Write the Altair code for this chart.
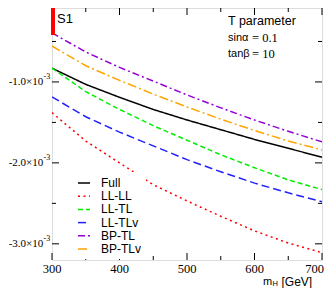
import altair as alt
import pandas as pd

# ---- data (units of 1e-3) ----
mh = [300, 350, 400, 450, 500, 550, 600, 650, 700]
full = [-0.83, -1.03, -1.19, -1.34, -1.47, -1.59, -1.71, -1.82, -1.93]
ll_ll = [-1.38, -1.73, -2.00, -2.27, -2.47, -2.66, -2.84, -2.99, -3.11]
ll_tl = [-0.83, -1.12, -1.34, -1.54, -1.72, -1.90, -2.06, -2.21, -2.33]
ll_tlv = [-1.185, -1.43, -1.62, -1.79, -1.96, -2.11, -2.25, -2.37, -2.48]
bp_tl = [-0.395, -0.63, -0.82, -0.99, -1.16, -1.32, -1.47, -1.61, -1.74]
bp_tlv = [-0.556, -0.80, -0.98, -1.15, -1.31, -1.46, -1.60, -1.73, -1.84]

series_names = ["Full", "LL-LL", "LL-TL", "LL-TLv", "BP-TL", "BP-TLv"]
series_vals = [full, ll_ll, ll_tl, ll_tlv, bp_tl, bp_tlv]
colors = ["#000000", "#ff0000", "#00ee00", "#2020ff", "#9400d3", "#ffa500"]
dashes = [[1, 0], [2, 3.5], [5, 3], [8, 4], [7, 3, 2, 3], [9, 3, 2, 3]]

x_major = [300, 400, 500, 600, 700]
x_minor = [350, 450, 550, 650]
x_labels = ["300", "400", "500", "600", "700"]
y_major = [-1, -2, -3]
y_minor = [-0.5, -1.5, -2.5]
y_labels = ["-1.0×10", "-2.0×10", "-3.0×10"]
y_exp = ["-3", "-3", "-3"]

W, H = 270, 252

rows = []
for name, vals in zip(series_names, series_vals):
    for m, v in zip(mh, vals):
        rows.append({"mH": m, "T": v, "series": name})
df = pd.DataFrame(rows)

xs = alt.Scale(domain=[300, 700], nice=False, zero=False)
ys = alt.Scale(domain=[-3.2, -0.0864], nice=False, zero=False)

leg = alt.Legend(orient="none", legendX=21, legendY=164, title=None,
                 symbolType="stroke", symbolSize=144, symbolStrokeWidth=1.5,
                 labelFont="Liberation Sans", labelFontSize=12, labelColor="black",
                 fillColor="white", padding=4, rowPadding=0.2, labelOffset=10)

lines = alt.Chart(df).mark_line(strokeWidth=1.5, clip=True).encode(
    x=alt.X("mH:Q", scale=xs, axis=None),
    y=alt.Y("T:Q", scale=ys, axis=None),
    color=alt.Color("series:N", scale=alt.Scale(domain=series_names, range=colors), legend=leg),
    strokeDash=alt.StrokeDash("series:N", scale=alt.Scale(domain=series_names, range=dashes), legend=leg),
    order="series:N",
)


def xticks(vals, y0, y1):
    return alt.Chart(pd.DataFrame({"v": vals})).mark_rule(color="black", strokeWidth=1).encode(
        x=alt.X("v:Q", scale=xs, axis=None), y=alt.value(y0), y2=alt.value(y1))


def yticks(vals, x0, x1):
    return alt.Chart(pd.DataFrame({"v": vals})).mark_rule(color="black", strokeWidth=1).encode(
        y=alt.Y("v:Q", scale=ys, axis=None), x=alt.value(x0), x2=alt.value(x1))


ticks = [
    xticks(x_major, H, H - 7), xticks(x_minor, H, H - 4),
    xticks(x_major, 0, 7), xticks(x_minor, 0, 4),
    yticks(y_major, 0, 7), yticks(y_minor, 0, 4),
    yticks(y_major, W, W - 7), yticks(y_minor, W, W - 4),
]

# x tick labels (last one kept inside the page)
xl_df = pd.DataFrame({"v": x_major, "t": x_labels})
xlab = alt.Chart(xl_df.iloc[:-1]).mark_text(
    align="center", baseline="middle", font="Liberation Serif", fontSize=12.5, color="black").encode(
    x=alt.X("v:Q", scale=xs, axis=None), y=alt.value(H + 8.5), text="t:N")
xlab_last = alt.Chart(xl_df.iloc[-1:]).mark_text(
    align="right", baseline="middle", font="Liberation Serif", fontSize=12.5, color="black", dx=2).encode(
    x=alt.X("v:Q", scale=xs, axis=None), y=alt.value(H + 8.5), text="t:N")

ylab_df = pd.DataFrame({"v": y_major, "t": y_labels, "e": y_exp})
ylab = alt.Chart(ylab_df).mark_text(align="right", baseline="middle", font="Liberation Serif",
                                    fontSize=11, color="black").encode(
    y=alt.Y("v:Q", scale=ys, axis=None), x=alt.value(-8.7), text="t:N")
yexp = alt.Chart(ylab_df).mark_text(align="left", baseline="middle", font="Liberation Serif",
                                    fontSize=8, dy=-5, color="black").encode(
    y=alt.Y("v:Q", scale=ys, axis=None), x=alt.value(-8.5), text="e:N")

# red marker bar at left
bar = alt.Chart(pd.DataFrame({"a": [-0.086], "b": [-0.42]})).mark_rule(
    color="#ff0000", strokeWidth=4).encode(
    y=alt.Y("a:Q", scale=ys, axis=None), y2="b:Q", x=alt.value(1))


def label(txt, x, y, size=12.5, font="Liberation Sans", align="left"):
    return alt.Chart(pd.DataFrame({"t": [txt]})).mark_text(
        align=align, baseline="middle", font=font, fontSize=size, color="black").encode(
        x=alt.value(x), y=alt.value(y), text="t:N")


texts = [
    label("S1", 5, 10.5, size=13),
    label("T parameter", 176, 13, size=12.5),
    label("sinα", 176, 29.5, size=11),
    label("= 0.1", 200, 29.5, size=12.5, font="Liberation Serif"),
    label("tanβ", 176, 46, size=11),
    label("= 10", 200, 46, size=12.5, font="Liberation Serif"),
    label("m", 211, 273.5, size=11),
    label("H", 220.5, 276, size=7.5),
    label("[GeV]", 229.5, 273.5, size=12),
]

chart = alt.layer(lines, *ticks, xlab, xlab_last, ylab, yexp, bar, *texts).properties(
    width=W, height=H,
    autosize=alt.AutoSizeParams(type="none"),
    padding={"left": 44, "top": 0, "right": 2, "bottom": 28},
).configure_view(stroke="black", strokeWidth=1).configure(background="white")

chart.save("out.html", embed_options={"renderer": "svg", "actions": False})
